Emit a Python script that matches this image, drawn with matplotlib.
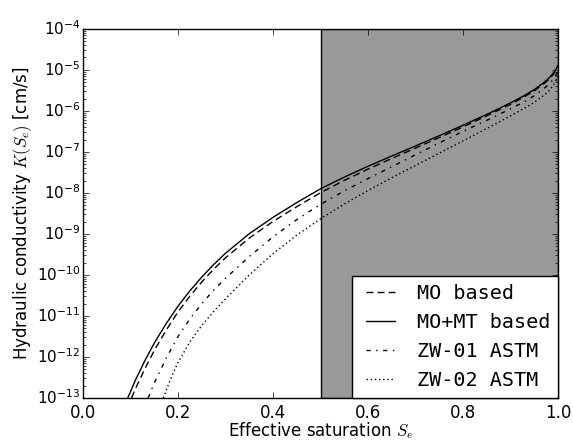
import numpy as np
import matplotlib
matplotlib.use('Agg')
import matplotlib.pyplot as plt

# values (Se, log10 K)
se_mo = [0.102, 0.11, 0.13, 0.15, 0.175, 0.2, 0.225, 0.25, 0.275, 0.3, 0.35, 0.4,
         0.45, 0.5, 0.55, 0.6, 0.65, 0.7, 0.75, 0.8, 0.85, 0.9, 0.93, 0.95,
         0.97, 0.98, 0.99, 0.995, 1.0]
logk_mo = [-13.0, -12.78, -12.29, -11.84, -11.345, -10.9, -10.515, -10.17, -9.86,
           -9.58, -9.1, -8.695, -8.335, -7.995, -7.695, -7.42, -7.16, -6.905,
           -6.65, -6.39, -6.12, -5.84, -5.65, -5.51, -5.34, -5.24, -5.11, -5.02,
           -4.92]

se_momt = [0.094, 0.11, 0.13, 0.15, 0.175, 0.2, 0.225, 0.25, 0.275, 0.3, 0.35, 0.4,
           0.45, 0.5, 0.55, 0.6, 0.65, 0.7, 0.75, 0.8, 0.85, 0.9, 0.93, 0.95,
           0.97, 0.98, 0.99, 0.995, 1.0]
logk_momt = [-13.0, -12.57, -12.09, -11.66, -11.185, -10.76, -10.385, -10.05,
             -9.745, -9.47, -8.995, -8.595, -8.235, -7.9, -7.615, -7.35, -7.1,
             -6.855, -6.605, -6.35, -6.085, -5.805, -5.62, -5.48, -5.31, -5.21,
             -5.08, -4.99, -4.89]

se_zw01 = [0.137, 0.15, 0.175, 0.2, 0.225, 0.25, 0.275, 0.3, 0.35, 0.4, 0.45, 0.5,
           0.55, 0.6, 0.65, 0.7, 0.75, 0.8, 0.85, 0.9, 0.93, 0.95, 0.97, 0.98,
           0.99, 0.995, 1.0]
logk_zw01 = [-13.0, -12.63, -12.03, -11.5, -11.07, -10.7, -10.37, -10.08, -9.55,
             -9.07, -8.65, -8.28, -7.95, -7.65, -7.36, -7.07, -6.78, -6.5, -6.23,
             -5.95, -5.77, -5.63, -5.46, -5.36, -5.23, -5.14, -5.04]

se_zw02 = [0.169, 0.18, 0.19, 0.2, 0.225, 0.25, 0.275, 0.3, 0.35, 0.4, 0.45, 0.5,
           0.55, 0.6, 0.65, 0.7, 0.75, 0.8, 0.85, 0.9, 0.93, 0.95, 0.97, 0.98,
           0.99, 0.995, 1.0]
logk_zw02 = [-13.0, -12.66, -12.38, -12.13, -11.63, -11.23, -10.89, -10.58, -10.0,
             -9.48, -9.03, -8.63, -8.27, -7.94, -7.63, -7.33, -7.03, -6.73, -6.43,
             -6.12, -5.93, -5.79, -5.62, -5.52, -5.38, -5.28, -5.15]

y_decades = [-13, -12, -11, -10, -9, -8, -7, -6, -5, -4]

plt.style.use('classic')

fig = plt.figure(figsize=(5.73, 4.40), dpi=100, facecolor='white')
ax = fig.add_axes([0.145, 0.0955, 0.829, 0.839])

# region Se > 0.5
ax.axvspan(0.5, 1.0, facecolor='0.6', edgecolor='k', linewidth=1.0, zorder=0)

ax.semilogy(se_mo, 10.0 ** np.array(logk_mo), color='k', lw=1.0,
            dashes=(5, 3), label='MO based')
ax.semilogy(se_momt, 10.0 ** np.array(logk_momt), 'k-', lw=1.0, label='MO+MT based')
ax.semilogy(se_zw01, 10.0 ** np.array(logk_zw01), color='k', lw=1.0,
            dashes=(3, 4, 1, 4), label='ZW-01 ASTM')
ax.semilogy(se_zw02, 10.0 ** np.array(logk_zw02), color='k', lw=1.0,
            dashes=(1, 2), label='ZW-02 ASTM')

ax.set_xlim(0.0, 1.0)
ax.set_ylim(1e-13, 1e-4)
ax.set_xticks([0.0, 0.2, 0.4, 0.6, 0.8, 1.0])
ax.set_yticks(10.0 ** np.array(y_decades, dtype=float))
ax.tick_params(axis='x', labelsize=12)
ax.tick_params(axis='y', labelsize=11, pad=2)

ax.set_xlabel('Effective saturation $S_e$', fontsize=12, labelpad=-1)
ax.set_ylabel('Hydraulic conductivity $K(S_e)$ [cm/s]', fontsize=12, labelpad=2)

leg = ax.legend(loc='lower right', borderaxespad=0.0, fancybox=False,
                prop={'family': 'DejaVu Sans Mono', 'size': 14.5},
                handlelength=2.0, labelspacing=0.5, handletextpad=0.8,
                numpoints=2)
leg.get_frame().set_edgecolor('k')
leg.get_frame().set_linewidth(1.0)

fig.savefig('out.png', dpi=100, facecolor='white')
